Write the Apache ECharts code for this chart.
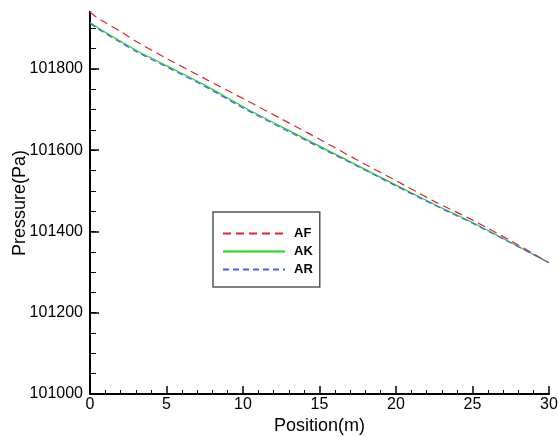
<!DOCTYPE html>
<html>
<head>
<meta charset="utf-8">
<script src="https://cdn.jsdelivr.net/npm/echarts@6/dist/echarts.min.js"></script>
<style>html,body{margin:0;padding:0;background:#fff;}#c{width:558px;height:437px;}</style>
</head>
<body>
<div id="c"></div>
<script>
const positions = [0, 0.5, 1, 2, 3, 5, 7.5, 10, 12.5, 15, 17.5, 20, 22.5, 25, 27.5, 30];
const AF = [101940, 101925, 101914, 101892, 101868, 101826, 101776, 101727, 101677, 101627, 101575, 101525, 101474, 101428, 101377, 101323];
const AK = [101914, 101902, 101890, 101868, 101846, 101808, 101760, 101707, 101658, 101610, 101562, 101514, 101467, 101422, 101373, 101323];
const AR = [101912, 101899, 101887, 101865, 101843, 101805, 101757, 101704, 101655, 101607, 101560, 101512, 101465, 101420, 101372, 101323];
const yLabels = [101000, 101200, 101400, 101600, 101800];
const yMinor = [101000,101050,101100,101150,101200,101250,101300,101350,101400,101450,101500,101550,101600,101650,101700,101750,101800,101850,101900];

const pair = (arr) => positions.map((p, i) => [p, arr[i]]);
const font = '"Liberation Sans", Arial, sans-serif';

const chart = echarts.init(document.getElementById('c'), null, {renderer: 'canvas'});
chart.setOption({
  animation: false,
  backgroundColor: '#fff',
  grid: {left: 90, right: 9, top: 12, bottom: 43, containLabel: false, outerBoundsMode: 'none'},
  xAxis: {
    type: 'value', min: 0, max: 30, interval: 5,
    name: 'Position(m)', nameLocation: 'middle', nameGap: 23, nameMoveOverlap: false,
    nameTextStyle: {color: '#000', fontSize: 18, fontFamily: font},
    axisLine: {show: true, lineStyle: {color: '#000', width: 2}},
    axisTick: {show: true, inside: true, length: 8, lineStyle: {color: '#000', width: 1.5}},
    minorTick: {show: true, splitNumber: 5, length: 4, lineStyle: {color: '#000', width: 1}},
    axisLabel: {color: '#000', fontSize: 16, fontFamily: font, margin: 3, formatter: (v) => String(v)},
    splitLine: {show: false}
  },
  yAxis: [{
    type: 'value', min: 101000, max: 101940, interval: 200,
    name: 'Pressure(Pa)', nameLocation: 'middle', nameGap: 61, nameMoveOverlap: false,
    nameTextStyle: {color: '#000', fontSize: 18, fontFamily: font},
    axisLine: {show: true, lineStyle: {color: '#000', width: 2}},
    axisTick: {show: true, inside: true, length: 6, customValues: yMinor, lineStyle: {color: '#000', width: 1}},
    axisLabel: {color: '#000', fontSize: 16, fontFamily: font, margin: 7, customValues: yLabels, formatter: (v) => String(v)},
    splitLine: {show: false}
  }, {
    type: 'value', min: 101000, max: 101940, interval: 200, position: 'left',
    axisLine: {show: false},
    axisTick: {show: true, inside: true, length: 9, customValues: yLabels, lineStyle: {color: '#000', width: 1.5}},
    axisLabel: {show: false},
    splitLine: {show: false}
  }],
  legend: {
    orient: 'vertical', left: 213, top: 212,
    padding: [15, 7, 11, 9],
    itemWidth: 62, itemHeight: 14, itemGap: 5,
    backgroundColor: '#fff', borderColor: '#555', borderWidth: 1.5,
    itemStyle: {opacity: 0},
    textStyle: {color: '#000', fontSize: 13, fontWeight: 'bold', fontFamily: font, padding: [0, 0, 0, 4]},
    data: ['AF', 'AK', 'AR']
  },
  series: [
    {name: 'AF', type: 'line', data: pair(AF), showSymbol: false, symbol: 'none', smooth: 0.3,
     lineStyle: {color: '#e8202a', width: 1.2, type: [8, 5]}, itemStyle: {color: '#e8202a'}, z: 3},
    {name: 'AK', type: 'line', data: pair(AK), showSymbol: false, symbol: 'none', smooth: 0.3,
     lineStyle: {color: '#1fd21f', width: 1.2}, itemStyle: {color: '#1fd21f'}, z: 2},
    {name: 'AR', type: 'line', data: pair(AR), showSymbol: false, symbol: 'none', smooth: 0.3,
     lineStyle: {color: '#4a5cff', width: 1.2, type: [6, 4]}, itemStyle: {color: '#4a5cff'}, z: 4}
  ]
});
</script>
</body>
</html>
